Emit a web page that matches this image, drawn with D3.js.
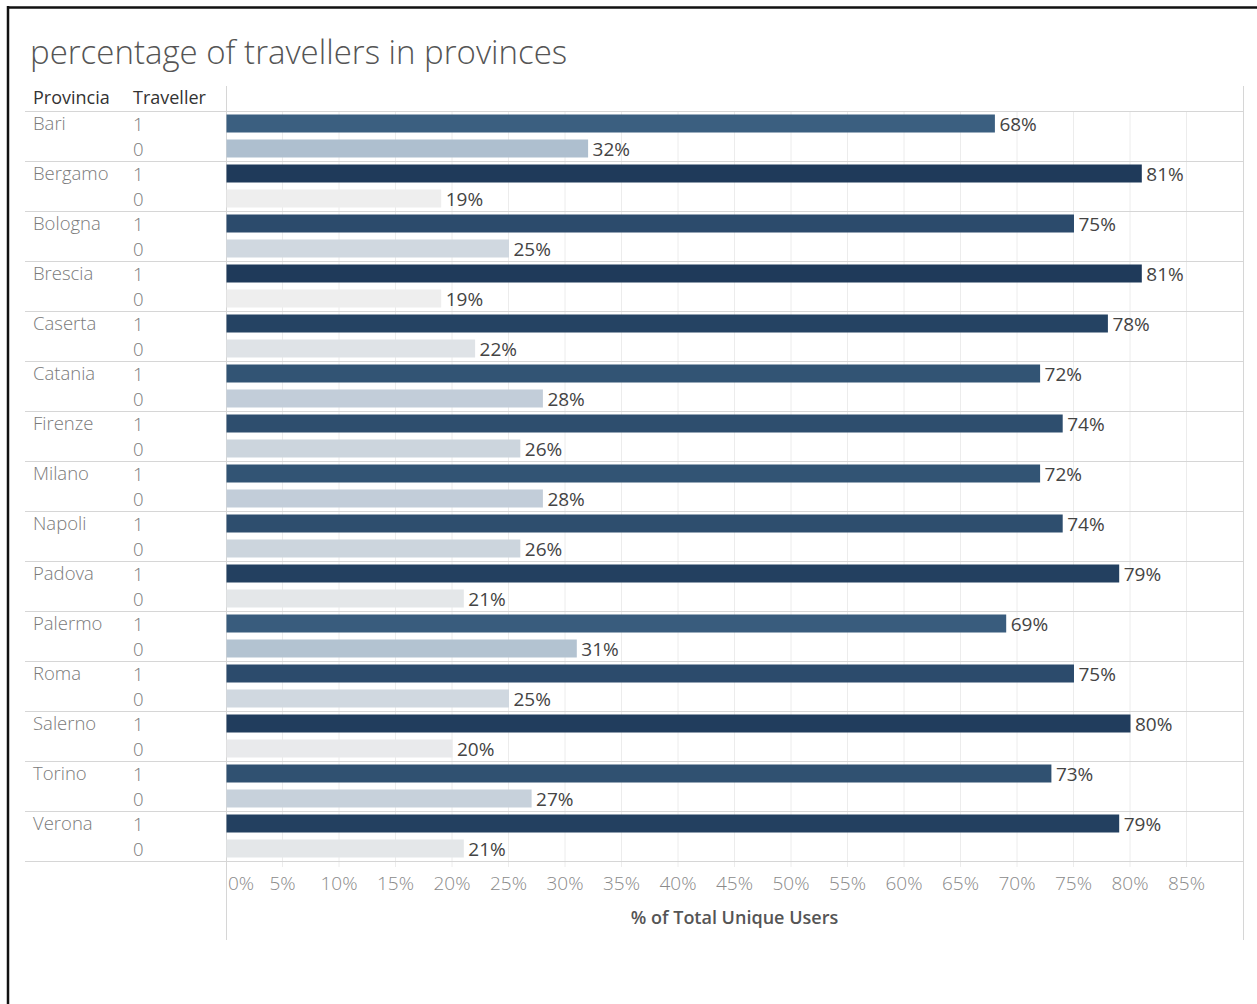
<!DOCTYPE html>
<html>
<head>
<meta charset="utf-8">
<script src="https://cdn.jsdelivr.net/npm/d3@7"></script>
<style>
  html, body { margin: 0; padding: 0; background: #fff; }
  svg { display: block; font-family: "Open Sans", "Noto Sans", sans-serif; }
</style>
</head>
<body>
<svg id="chart" width="1257" height="1004"></svg>
<script>
// Provinces and share of unique users per traveller flag (1 = traveller, 0 = not)
const provinces = ["Bari", "Bergamo", "Bologna", "Brescia", "Caserta", "Catania", "Firenze",
  "Milano", "Napoli", "Padova", "Palermo", "Roma", "Salerno", "Torino", "Verona"];
const travellerFlags = ["1", "0"];
const travellerShare = [68, 81, 75, 81, 78, 72, 74, 72, 74, 79, 69, 75, 80, 73, 79];
const nonTravellerShare = [32, 19, 25, 19, 22, 28, 26, 28, 26, 21, 31, 25, 20, 27, 21];
const tickValues = [0, 5, 10, 15, 20, 25, 30, 35, 40, 45, 50, 55, 60, 65, 70, 75, 80, 85];

const rows = [];
provinces.forEach((p, i) => {
  rows.push({ province: p, flag: "1", value: travellerShare[i] });
  rows.push({ province: p, flag: "0", value: nonTravellerShare[i] });
});

const svg = d3.select("#chart");
const W = 1257, H = 1004;

// frame
svg.append("line").attr("x1", 7).attr("x2", W).attr("y1", 7.5).attr("y2", 7.5)
  .attr("stroke", "#111").attr("stroke-width", 2.5);
svg.append("line").attr("x1", 8).attr("x2", 8).attr("y1", 6).attr("y2", H)
  .attr("stroke", "#111").attr("stroke-width", 2.5);

// title
svg.append("text").attr("x", 30).attr("y", 64)
  .attr("font-size", 33).attr("font-weight", 300).attr("fill", "#555")
  .text("percentage of travellers in provinces");

const panelLeft = 25, plotLeft = 226, plotRight = 1243;
const plotTop = 111, bandH = 50;

const x = d3.scaleLinear().domain([0, 90]).range([plotLeft, plotLeft + 90 * 11.3]);
const yProv = d3.scaleBand().domain(provinces).range([plotTop, plotTop + bandH * provinces.length]);
const yFlag = d3.scaleBand().domain(travellerFlags).range([0, bandH]).paddingInner(0.28).paddingOuter(0.14);

const color = d3.scaleLinear()
  .domain([19, 32, 68, 81])
  .range(["#eeeeee", "#aebfcf", "#3b5f80", "#1f3a5a"]);

const plotBottom = plotTop + bandH * provinces.length;

// vertical grid
svg.append("g").selectAll("line").data(tickValues.slice(1)).join("line")
  .attr("x1", d => x(d)).attr("x2", d => x(d))
  .attr("y1", plotTop).attr("y2", plotBottom + 6)
  .attr("stroke", "#ececec").attr("stroke-width", 1);

// header
svg.append("text").attr("x", 33).attr("y", 104).attr("font-size", 18).attr("font-weight", 500)
  .attr("fill", "#333").text("Provincia");
svg.append("text").attr("x", 133).attr("y", 104).attr("font-size", 18).attr("font-weight", 500)
  .attr("fill", "#333").text("Traveller");

// row separators
svg.append("g").selectAll("line").data(d3.range(provinces.length + 1)).join("line")
  .attr("x1", panelLeft).attr("x2", plotRight)
  .attr("y1", i => plotTop + i * bandH + 0.5).attr("y2", i => plotTop + i * bandH + 0.5)
  .attr("stroke", "#d6d6d6").attr("stroke-width", 1.2);

// panel dividers
svg.append("line").attr("x1", plotLeft + 0.5).attr("x2", plotLeft + 0.5).attr("y1", 86).attr("y2", 940)
  .attr("stroke", "#d6d6d6");
svg.append("line").attr("x1", plotRight + 0.5).attr("x2", plotRight + 0.5).attr("y1", 86).attr("y2", 940)
  .attr("stroke", "#d6d6d6");

// row labels
const groups = svg.append("g").selectAll("g").data(provinces).join("g")
  .attr("transform", p => `translate(0,${yProv(p)})`);
groups.append("text").attr("x", 33).attr("y", 19).attr("font-size", 18.5).attr("font-weight", 300)
  .attr("fill", "#7a7a7a").text(p => p);
groups.selectAll("text.flag").data(travellerFlags).join("text").attr("class", "flag")
  .attr("x", 133).attr("y", f => yFlag(f) + yFlag.bandwidth() / 2 + 7)
  .attr("font-size", 18.5).attr("font-weight", 300).attr("fill", "#7a7a7a").text(f => f);

// bars
const barY = d => yProv(d.province) + yFlag(d.flag);
svg.append("g").selectAll("rect").data(rows).join("rect")
  .attr("x", x(0) + 0.5).attr("y", barY)
  .attr("width", d => x(d.value) - x(0))
  .attr("height", yFlag.bandwidth())
  .attr("fill", d => color(d.value));

// value labels
svg.append("g").selectAll("text").data(rows).join("text")
  .attr("x", d => x(d.value) + 5)
  .attr("y", d => barY(d) + yFlag.bandwidth() / 2 + 7.5)
  .attr("font-size", 19).attr("font-weight", 400).attr("fill", "#444")
  .text(d => d.value + "%");

// x axis
const axis = svg.append("g");
axis.selectAll("text").data(tickValues).join("text")
  .attr("x", d => d === 0 ? x(0) + 2 : x(d))
  .attr("y", 890)
  .attr("text-anchor", d => d === 0 ? "start" : "middle")
  .attr("font-size", 19).attr("font-weight", 300).attr("fill", "#8a8a8a")
  .text(d => d + "%");

svg.append("text").attr("x", (plotLeft + plotRight) / 2).attr("y", 924)
  .attr("text-anchor", "middle").attr("font-size", 18).attr("font-weight", 600)
  .attr("fill", "#555").text("% of Total Unique Users");
</script>
</body>
</html>
